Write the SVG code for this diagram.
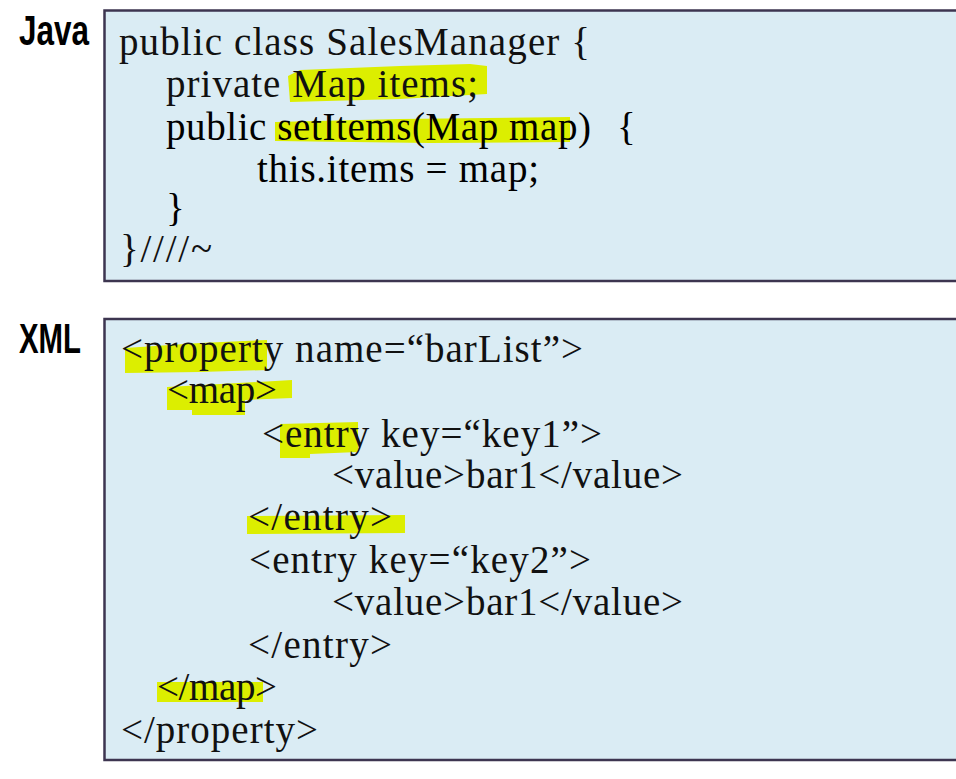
<svg xmlns="http://www.w3.org/2000/svg" width="956" height="779" viewBox="0 0 956 779">
<style>
.box{fill:#daecf4;stroke:#3d3550;stroke-width:2.5}
.hl{fill:#dcee00}
.lbl{font-family:"Liberation Sans Narrow","Liberation Sans",Arial,sans-serif;font-weight:bold;font-size:42px;fill:#000}
.code{font-family:"Liberation Serif","Times New Roman",serif;font-size:39px;fill:#111}
.dark{fill:#000}
</style>
<rect width="956" height="779" fill="#ffffff"/>
<g id="java">
<text class="lbl" x="19" y="45" textLength="70" lengthAdjust="spacingAndGlyphs">Java</text>
<rect class="box" x="104.5" y="10.5" width="900" height="270.5"/>
<polygon class="hl" points="288,76 300,70 400,66 470,64 487,66 487,94 400,99 290,102"/>
<polygon class="hl" points="275,122 400,119 570,117 570,142 430,143 275,141"/>
<text class="code" x="119" y="55" textLength="471" lengthAdjust="spacing">public class SalesManager {</text>
<text class="code" x="166" y="97" textLength="312" lengthAdjust="spacing">private Map items;</text>
<text class="code dark" x="166" y="140" textLength="425" lengthAdjust="spacing">public setItems(Map map)</text>
<text class="code dark" x="617" y="140">{</text>
<text class="code dark" x="257" y="182" textLength="282" lengthAdjust="spacing">this.items = map;</text>
<text class="code dark" x="166" y="221">}</text>
<text class="code" x="120" y="262" textLength="92" lengthAdjust="spacing">}////~</text>
</g>
<g id="xml">
<text class="lbl" x="19" y="353" textLength="62" lengthAdjust="spacingAndGlyphs">XML</text>
<rect class="box" x="104.5" y="319" width="900" height="441"/>
<polygon class="hl" points="125,348 200,343 267,340 267,370 200,372 125,373"/>
<polygon class="hl" points="167,387 292,380 292,398 245,400 245,415 192,415 192,410 167,410"/>
<polygon class="hl" points="280,424 358,422 358,452 310,454 310,458 280,458"/>
<polygon class="hl" points="247,516 405,515 405,533 247,534"/>
<polygon class="hl" points="157,682 263,682 263,702 157,702"/>
<text class="code" x="121" y="362" textLength="462" lengthAdjust="spacing">&lt;property name=“barList”&gt;</text>
<text class="code" x="167" y="403" textLength="110" lengthAdjust="spacing">&lt;map&gt;</text>
<text class="code" x="262" y="447" textLength="340" lengthAdjust="spacing">&lt;entry key=“key1”&gt;</text>
<text class="code" x="332" y="488" textLength="351" lengthAdjust="spacing">&lt;value&gt;bar1&lt;/value&gt;</text>
<text class="code" x="248" y="530" textLength="144" lengthAdjust="spacing">&lt;/entry&gt;</text>
<text class="code" x="249" y="573" textLength="342" lengthAdjust="spacing">&lt;entry key=“key2”&gt;</text>
<text class="code" x="332" y="615" textLength="351" lengthAdjust="spacing">&lt;value&gt;bar1&lt;/value&gt;</text>
<text class="code" x="248" y="658" textLength="144" lengthAdjust="spacing">&lt;/entry&gt;</text>
<text class="code" x="157" y="700" textLength="120" lengthAdjust="spacing">&lt;/map&gt;</text>
<text class="code" x="121" y="743" textLength="197" lengthAdjust="spacing">&lt;/property&gt;</text>
</g>
</svg>
